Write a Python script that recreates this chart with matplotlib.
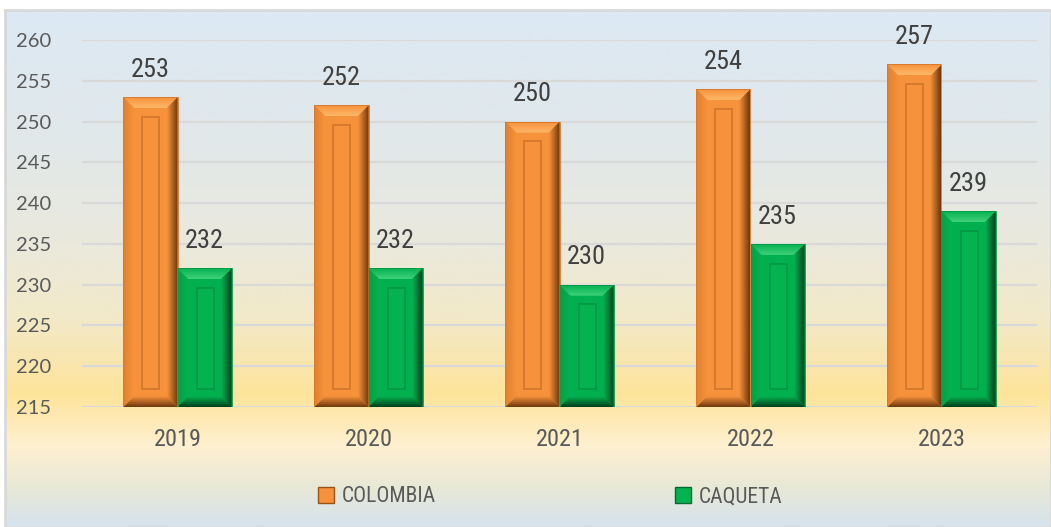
import numpy as np
import matplotlib
matplotlib.use("Agg")
import matplotlib.pyplot as plt
from matplotlib.patches import Polygon, Rectangle, Patch
from matplotlib.colors import LinearSegmentedColormap
from matplotlib import font_manager as fm

years = ["2019", "2020", "2021", "2022", "2023"]
colombia = [253, 252, 250, 254, 257]
caqueta = [232, 232, 230, 235, 239]
series_names = ["COLOMBIA", "CAQUETA"]
yticks = [215, 220, 225, 230, 235, 240, 245, 250, 255, 260]

W, H = 1051, 527
fig = plt.figure(figsize=(W / 100, H / 100), dpi=100)

names = {f.name for f in fm.fontManager.ttflist}
cond_family = None
for cand in ["Roboto Condensed", "Liberation Sans Narrow", "Open Sans Condensed"]:
    if cand in names:
        cond_family = cand
        break
if cond_family is None:
    cond_kw = dict(family="DejaVu Sans", stretch="condensed")
else:
    cond_kw = dict(family=cond_family)

# background gradient
bg = fig.add_axes([5 / W, 0, 1 - 5 / W, 517 / H], zorder=-5)
stops = [(0.0, "#dce8f4"), (0.25, "#e1e8ea"), (0.45, "#eae9dd"), (0.60, "#f3e9c8"),
         (0.745, "#fee49b"), (0.84, "#fff0cf"), (0.93, "#e7e8d8"), (1.0, "#d5e3ee")]
cm_bg = LinearSegmentedColormap.from_list("bg", stops)
grad = np.linspace(0, 1, 512).reshape(-1, 1)
bg.imshow(grad, aspect="auto", cmap=cm_bg, extent=[0, 1, 0, 1], origin="upper")
bg.set_xlim(0, 1); bg.set_ylim(0, 1)
bg.axis("off")
bg.add_patch(Rectangle((0, 0), 1, 1, transform=bg.transAxes, fill=False,
                       edgecolor="#d9d9d9", lw=2, clip_on=False))

ax = fig.add_axes([82 / W, (H - 407) / H, (1037 - 82) / W, (407 - 40) / H])
ax.set_facecolor("none")
ax.set_xlim(-0.5, len(years) - 0.5)
ax.set_ylim(215, 260)
ax.set_yticks(yticks)
for s in ax.spines.values():
    s.set_visible(False)
ax.grid(axis="y", color="#d9d9d9", lw=1.6, zorder=0)
ax.set_axisbelow(True)
ax.tick_params(axis="both", length=0)
ax.tick_params(axis="y", pad=22, labelsize=14.5, labelcolor="#595959")
for t in ax.get_yticklabels():
    t.set_family("Lato")
x = np.arange(len(years))
ax.set_xticks(x)
ax.set_xticklabels(years, color="#595959", fontsize=17.5, **cond_kw)
ax.tick_params(axis="x", pad=15)

bw = 0.283
bars_c = ax.bar(x - bw / 2, np.array(colombia) - 215, bw, bottom=215, color="#f7923c", zorder=2)
bars_q = ax.bar(x + bw / 2, np.array(caqueta) - 215, bw, bottom=215, color="#00b04f", zorder=2)

inv = ax.transData.inverted()
p0 = inv.transform((0, 0))
p1 = inv.transform((11, 11))
bx, by = p1[0] - p0[0], p1[1] - p0[1]


def grad_fill(poly_pts, c_from, c_to, direction, zorder=3):
    poly = Polygon(poly_pts, closed=True, facecolor="none", edgecolor="none", zorder=zorder)
    ax.add_patch(poly)
    xs = [p[0] for p in poly_pts]; ys = [p[1] for p in poly_pts]
    cmap = LinearSegmentedColormap.from_list("g", [c_from, c_to])
    if direction == "h":
        arr = np.linspace(0, 1, 64).reshape(1, -1)
    else:
        arr = np.linspace(0, 1, 64).reshape(-1, 1)
    im = ax.imshow(arr, cmap=cmap, aspect="auto", origin="lower",
                   extent=[min(xs), max(xs), min(ys), max(ys)], zorder=zorder)
    im.set_clip_path(poly)


def bevel(bar, base, light, dark, inner_edge, left_c):
    x0, y0 = bar.get_x(), bar.get_y()
    w, h = bar.get_width(), bar.get_height()
    x1, y1 = x0 + w, y0 + h
    grad_fill([(x0, y0), (x0, y1), (x0 + bx, y1 - by), (x0 + bx, y0 + by)], left_c, base, "h")
    grad_fill([(x1, y1), (x1, y0), (x1 - bx, y0 + by), (x1 - bx, y1 - by)], base, dark, "h")
    grad_fill([(x0, y0), (x1, y0), (x1 - bx, y0 + by), (x0 + bx, y0 + by)], dark, base, "v")
    grad_fill([(x0, y1), (x1, y1), (x1 - bx, y1 - by), (x0 + bx, y1 - by)], light, base, "v", zorder=3.1)
    ix0 = x0 + w * 19 / 54
    iw = w * 17 / 54
    iy0 = y0 + 1.6 * by
    ih = (y1 - 1.8 * by) - iy0
    ax.add_patch(Rectangle((ix0, iy0), iw, ih, facecolor=base, edgecolor=inner_edge,
                           lw=1.3, zorder=3.2))
    ax.add_patch(Rectangle((x0, y0), w, h, facecolor="none", edgecolor=inner_edge,
                           lw=0.6, zorder=3.3))


for b in bars_c:
    bevel(b, "#f7923c", "#fdb868", "#6e380c", "#d5782c", "#e0802f")
for b in bars_q:
    bevel(b, "#05b250", "#3fd07a", "#00401c", "#039944", "#04a048")

ax.set_xlim(-0.5, len(years) - 0.5)
ax.set_ylim(215, 260)

for bars, vals in [(bars_c, colombia), (bars_q, caqueta)]:
    for b, v in zip(bars, vals):
        ax.annotate(str(v), (b.get_x() + b.get_width() / 2, v), xytext=(0, 11),
                    textcoords="offset points", ha="center", va="bottom",
                    color="#404040", fontsize=19, zorder=5, **cond_kw)

handles = [Patch(facecolor="#f7923c", edgecolor="#9a5218"),
           Patch(facecolor="#05b250", edgecolor="#006b30")]
leg = fig.legend(handles, series_names, loc="center", bbox_to_anchor=(550 / W, 1 - 497 / H),
                 ncol=2, frameon=False, handlelength=0.75, handleheight=0.75,
                 handletextpad=0.35, columnspacing=11.1,
                 prop=dict(size=15.5, **cond_kw))
for t in leg.get_texts():
    t.set_color("#595959")

fig.savefig("out.png", dpi=100)
